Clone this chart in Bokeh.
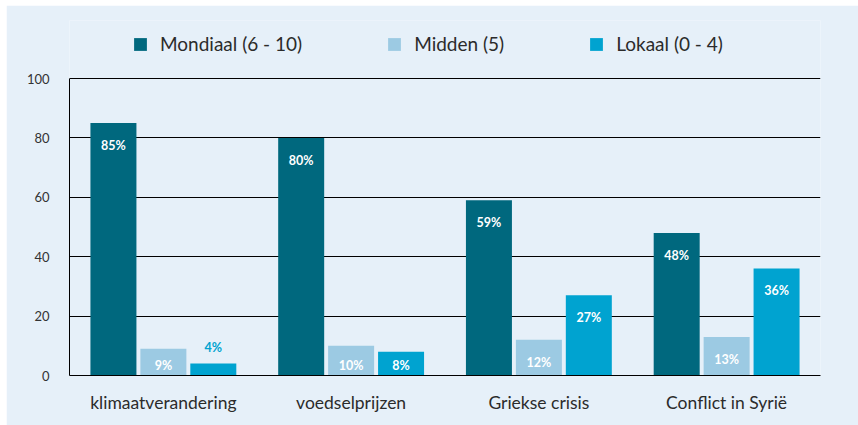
from bokeh.plotting import figure
from bokeh.models import ColumnDataSource, FactorRange, FixedTicker, Legend, LegendItem, Range1d
from bokeh.transform import dodge
from bokeh.core.properties import value
from bokeh.embed import file_html
from bokeh.resources import INLINE

categories = ["klimaatverandering", "voedselprijzen", "Griekse crisis", "Conflict in Syrië"]
series_names = ["Mondiaal (6 - 10)", "Midden (5)", "Lokaal (0 - 4)"]
mondiaal = [85, 80, 59, 48]
midden = [9, 10, 12, 13]
lokaal = [4, 8, 27, 36]
y_ticks = [0, 20, 40, 60, 80, 100]

colors = ["#00687e", "#9ccae3", "#00a3d0"]
bg = "#e6f0f9"
FONT = "Lato"

# geometry (pixels): frame top extended above the 100 line to hold the legend
axis_top_px = 73      # position of the 100 line from figure top
frame_top_px = 15
frame_bottom_px = 370
y_end = 100 * (frame_bottom_px - frame_top_px) / (frame_bottom_px - axis_top_px)

p = figure(x_range=FactorRange(*categories, range_padding=0), y_range=Range1d(0, y_end),
           width=852, height=420, output_backend="svg", toolbar_location=None,
           min_border_left=63, min_border_right=38, min_border_top=frame_top_px,
           min_border_bottom=420 - frame_bottom_px)
p.margin = (5, 0, 0, 6)
p.background_fill_color = bg
p.border_fill_color = bg
p.outline_line_color = None

offsets = [-0.266, 0.0, 0.266]
bar_w = 0.245
series = [mondiaal, midden, lokaal]
renderers = []
for vals, col, off in zip(series, colors, offsets):
    lab_y = []
    lab_col = []
    for v in vals:
        if v < 6:
            lab_y.append(v + 5.5)
            lab_col.append(col)
        else:
            lab_y.append(max(v - 7.5, 3.5))
            lab_col.append("white")
    src = ColumnDataSource(dict(cat=categories, val=vals,
                                lab=[f"{v}%" for v in vals], lab_y=lab_y, lab_col=lab_col))
    r = p.vbar(x=dodge("cat", off, range=p.x_range), top="val", width=bar_w, source=src,
               fill_color=col, line_color=None)
    renderers.append(r)
    p.text(x=dodge("cat", off, range=p.x_range), y="lab_y", text="lab", source=src,
           text_color="lab_col", text_font=value(FONT), text_font_style="bold",
           text_font_size="12.5px", text_align="center", text_baseline="middle")

# axes
p.yaxis.ticker = FixedTicker(ticks=y_ticks)
p.yaxis.bounds = (0, 100)
p.yaxis.axis_line_color = "black"
p.yaxis.major_tick_line_color = None
p.yaxis.minor_tick_line_color = None
p.yaxis.major_label_standoff = 14
p.yaxis.major_label_text_font = FONT
p.yaxis.major_label_text_font_size = "13px"
p.yaxis.major_label_text_color = "#333333"
p.yaxis.major_label_text_baseline = "top"

p.xaxis.axis_line_color = "black"
p.xaxis.major_tick_line_color = None
p.xaxis.minor_tick_line_color = None
p.xaxis.major_label_standoff = 10
p.xaxis.major_label_text_font = FONT
p.xaxis.major_label_text_font_size = "17.5px"
p.xaxis.major_label_text_color = "#2b2b2b"

p.xgrid.grid_line_color = None
p.ygrid.ticker = FixedTicker(ticks=y_ticks)
p.ygrid.grid_line_color = "black"
p.ygrid.grid_line_width = 1

legend = Legend(items=[LegendItem(label=n, renderers=[r]) for n, r in zip(series_names, renderers)],
                orientation="horizontal", location=(63, 320), padding=0, margin=0,
                spacing=84, glyph_width=16, glyph_height=16, label_standoff=12,
                label_text_font=FONT, label_text_font_size="19px", label_text_color="#2b2b2b",
                background_fill_alpha=0, border_line_color=None)
p.add_layout(legend, "center")

open("out.html", "w").write(file_html(p, INLINE))
